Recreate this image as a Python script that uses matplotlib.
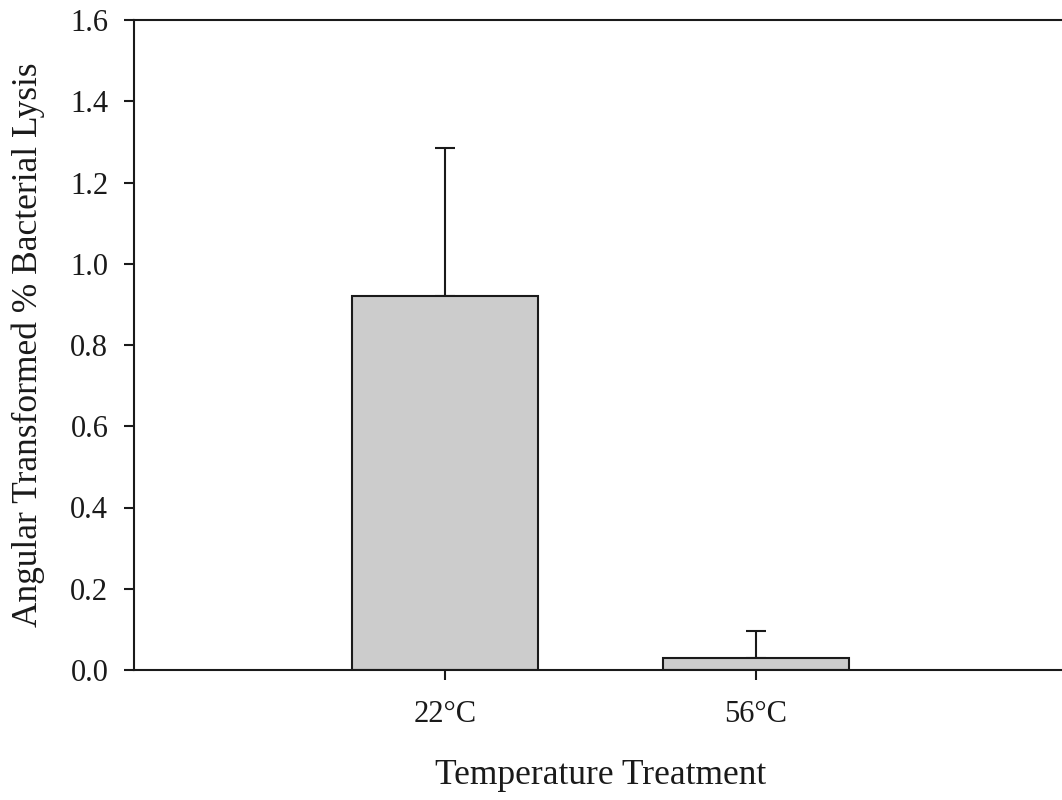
import matplotlib
matplotlib.use("Agg")
import matplotlib.pyplot as plt

# data
categories = ["22°C", "56°C"]
means = [0.921, 0.030]
errors = [0.364, 0.066]

plt.rcParams["font.family"] = ["Liberation Serif", "DejaVu Serif"]

W, H = 1062, 800
fig = plt.figure(figsize=(W / 100, H / 100), dpi=100)
ax = fig.add_axes([134 / W, 130 / H, (1067 - 134) / W, 650 / H])

xpos = list(range(1, len(categories) + 1))
ax.bar(xpos, means, width=0.6, color="#cccccc", edgecolor="#1a1a1a",
       linewidth=1.5, zorder=2)
# upper-only error bars
ax.errorbar(xpos, means, yerr=[[0] * len(errors), errors], fmt="none",
            ecolor="#1a1a1a", elinewidth=1.5, capsize=7.5, capthick=1.5,
            zorder=1)

ax.set_xlim(0, 3)
ax.set_ylim(0, 1.6)
ax.set_yticks([0.0, 0.2, 0.4, 0.6, 0.8, 1.0, 1.2, 1.4, 1.6])
ax.set_yticklabels([f"{v:.1f}" for v in ax.get_yticks()])
ax.set_xticks(xpos)
ax.set_xticklabels(categories)

for side in ["left", "bottom", "top"]:
    ax.spines[side].set_linewidth(1.5)
    ax.spines[side].set_color("#1a1a1a")
ax.spines["right"].set_visible(False)

ax.tick_params(axis="both", direction="out", length=7.5, width=1.5,
               color="#1a1a1a", labelsize=22, labelcolor="#1a1a1a")
ax.tick_params(axis="y", pad=11)
ax.tick_params(axis="x", pad=14)

ax.set_xlabel("Temperature Treatment", fontsize=25.5, color="#1a1a1a",
              labelpad=22)
ax.set_ylabel("Angular Transformed % Bacterial Lysis", fontsize=25.5,
              color="#1a1a1a", labelpad=18)

fig.savefig("out.png", dpi=100, facecolor="white")
